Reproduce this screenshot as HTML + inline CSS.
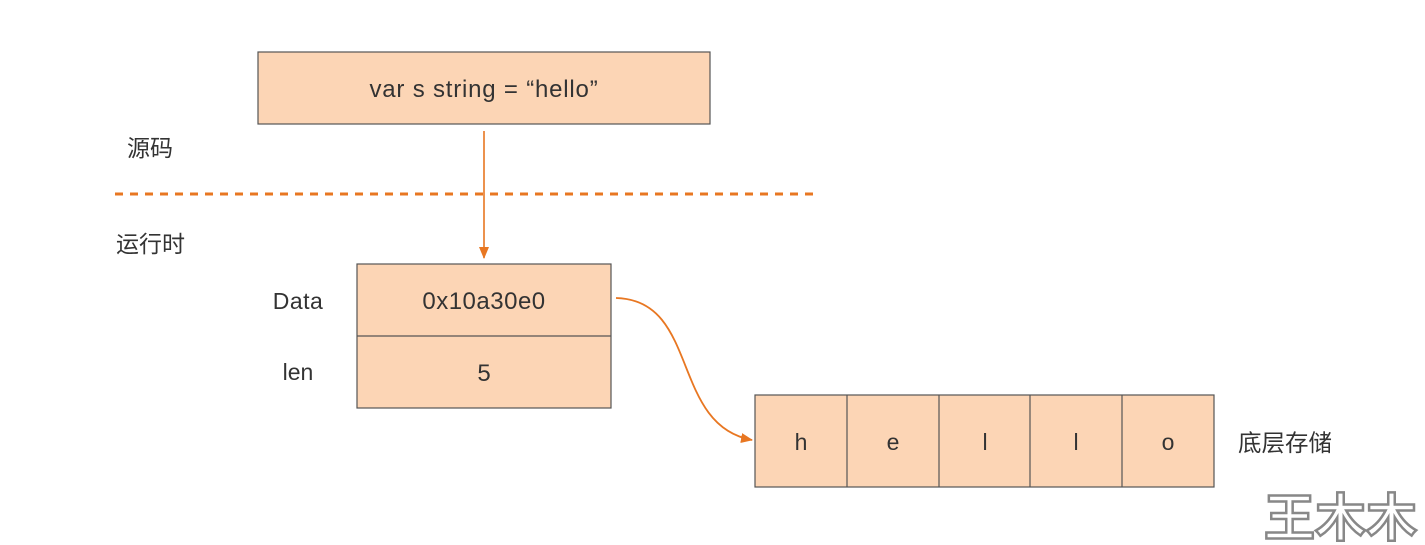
<!DOCTYPE html>
<html><head><meta charset="utf-8"><style>
body{margin:0;background:#fff;}
svg{display:block}
text{font-family:"Liberation Sans","Noto Sans CJK SC",sans-serif;fill:#333;}
</style></head><body>
<svg width="1425" height="545" viewBox="0 0 1425 545" xmlns="http://www.w3.org/2000/svg">
<defs>
<marker id="ah" markerWidth="12" markerHeight="12" refX="11" refY="6" orient="auto" markerUnits="userSpaceOnUse">
<path d="M0,1 L12,6 L0,11 Z" fill="#e87722"/></marker>
</defs>
<rect x="258" y="52" width="452" height="72" fill="#fcd5b5" stroke="#555" stroke-width="1.2"/>
<text x="484" y="97" font-size="24" text-anchor="middle" letter-spacing="0.8">var s string = “hello”</text>
<text x="127" y="156" font-size="23">源码</text>
<line x1="115" y1="194" x2="815" y2="194" stroke="#e87722" stroke-width="3" stroke-dasharray="8,7"/>
<text x="116" y="252" font-size="23">运行时</text>
<line x1="484" y1="131" x2="484" y2="258" stroke="#e87722" stroke-width="1.6" marker-end="url(#ah)"/>
<rect x="357" y="264" width="254" height="144" fill="#fcd5b5" stroke="#555" stroke-width="1.2"/>
<line x1="357" y1="336" x2="611" y2="336" stroke="#555" stroke-width="1.2"/>
<text x="484" y="309" font-size="24" text-anchor="middle" letter-spacing="0.5">0x10a30e0</text>
<text x="484" y="381" font-size="24" text-anchor="middle">5</text>
<text x="298" y="309" font-size="23" text-anchor="middle" letter-spacing="0.5">Data</text>
<text x="298" y="380" font-size="23" text-anchor="middle">len</text>
<path d="M616,298 C700,300 670,425 752,440" fill="none" stroke="#e87722" stroke-width="1.8" marker-end="url(#ah)"/>
<rect x="755" y="395" width="459" height="92" fill="#fcd5b5" stroke="#555" stroke-width="1.2"/>
<line x1="847" y1="395" x2="847" y2="487" stroke="#555" stroke-width="1.2"/>
<line x1="939" y1="395" x2="939" y2="487" stroke="#555" stroke-width="1.2"/>
<line x1="1030" y1="395" x2="1030" y2="487" stroke="#555" stroke-width="1.2"/>
<line x1="1122" y1="395" x2="1122" y2="487" stroke="#555" stroke-width="1.2"/>
<text x="801" y="450" font-size="23" text-anchor="middle">h</text>
<text x="893" y="450" font-size="23" text-anchor="middle">e</text>
<text x="985" y="450" font-size="23" text-anchor="middle">l</text>
<text x="1076" y="450" font-size="23" text-anchor="middle">l</text>
<text x="1168" y="450" font-size="23" text-anchor="middle">o</text>
<text x="1238" y="451" font-size="23.5">底层存储</text>
<text x="1264" y="536" font-size="51" font-weight="bold" style="fill:#fff;stroke:#888;stroke-width:2.5">王木木</text>
</svg>
</body></html>
